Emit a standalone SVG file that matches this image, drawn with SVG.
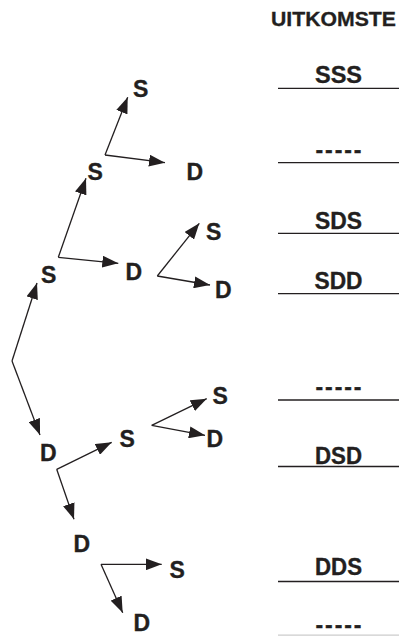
<svg xmlns="http://www.w3.org/2000/svg" width="399" height="636" viewBox="0 0 399 636">
<style>
  .lbl { font-family: "Liberation Sans", Arial, sans-serif; font-weight: bold; font-size: 23px; fill: #231f20; stroke: #231f20; stroke-width: 0.35; }
  .out { font-family: "Liberation Sans", Arial, sans-serif; font-weight: bold; font-size: 23px; fill: #231f20; stroke: #231f20; stroke-width: 0.35; text-anchor: middle; }
  .title { font-family: "Liberation Sans", Arial, sans-serif; font-weight: bold; font-size: 21px; fill: #231f20; stroke: #231f20; stroke-width: 0.3; }
  .edge { stroke: #231f20; stroke-width: 1.3; fill: none; marker-end: url(#arr); }
  .rule { stroke: #231f20; stroke-width: 1.3; }
</style>
<defs>
  <marker id="arr" markerUnits="userSpaceOnUse" markerWidth="16" markerHeight="12" viewBox="0 0 16 12" refX="16" refY="6" orient="auto">
    <path d="M0,0 L16,6 L0,12 Z" fill="#231f20"/>
  </marker>
</defs>
<rect width="399" height="636" fill="#ffffff"/>
<text class="title" x="271" y="26" textLength="125" lengthAdjust="spacingAndGlyphs">UITKOMSTE</text>

<g id="connectors">
  <line class="edge" x1="12" y1="361" x2="37" y2="283"/>
  <line class="edge" x1="12" y1="361" x2="40" y2="435"/>
  <line class="edge" x1="58.3" y1="257.3" x2="86" y2="178.3"/>
  <line class="edge" x1="58.3" y1="257.3" x2="118.3" y2="263.3"/>
  <line class="edge" x1="105" y1="155" x2="127.7" y2="97.3"/>
  <line class="edge" x1="105" y1="155" x2="165" y2="162.7"/>
  <line class="edge" x1="157.3" y1="276" x2="199.3" y2="223.3"/>
  <line class="edge" x1="157.3" y1="276" x2="210" y2="285"/>
  <line class="edge" x1="56.7" y1="469.3" x2="111.7" y2="442.3"/>
  <line class="edge" x1="56.7" y1="469.3" x2="74" y2="519.3"/>
  <line class="edge" x1="151.7" y1="425.3" x2="206.7" y2="398.7"/>
  <line class="edge" x1="151.7" y1="425.3" x2="205" y2="435.3"/>
  <line class="edge" x1="101" y1="564.3" x2="161.7" y2="564.3"/>
  <line class="edge" x1="101" y1="564.3" x2="122.7" y2="612.7"/>
</g>

<g id="n-s1"><text class="lbl" x="41" y="283">S</text></g>
<g id="n-s2"><text class="lbl" x="87.5" y="180">S</text></g>
<g id="n-s3"><text class="lbl" x="133" y="96.5">S</text></g>
<g id="n-ssd"><text class="lbl" x="186.5" y="180">D</text></g>
<g id="n-sd"><text class="lbl" x="125.5" y="280">D</text></g>
<g id="n-sds"><text class="lbl" x="206" y="240">S</text></g>
<g id="n-sdd"><text class="lbl" x="215" y="297.5">D</text></g>
<g id="n-d1"><text class="lbl" x="40" y="460.5">D</text></g>
<g id="n-ds"><text class="lbl" x="119.5" y="447">S</text></g>
<g id="n-dss"><text class="lbl" x="212.5" y="404">S</text></g>
<g id="n-dsd"><text class="lbl" x="206.5" y="447">D</text></g>
<g id="n-d2"><text class="lbl" x="73.5" y="552">D</text></g>
<g id="n-dds"><text class="lbl" x="169.5" y="578">S</text></g>
<g id="n-ddd"><text class="lbl" x="133.5" y="631">D</text></g>

<g id="outcomes">
  <text class="out" x="338.5" y="83" textLength="47" lengthAdjust="spacingAndGlyphs">SSS</text>
  <line class="rule" x1="278" y1="88.3" x2="399" y2="88.3"/>
  <text class="out" x="338.5" y="157.5" textLength="46" lengthAdjust="spacing">-----</text>
  <line class="rule" x1="278" y1="162.7" x2="399" y2="162.7"/>
  <text class="out" x="338.5" y="228.7" textLength="47" lengthAdjust="spacingAndGlyphs">SDS</text>
  <line class="rule" x1="278" y1="233.3" x2="399" y2="233.3"/>
  <text class="out" x="338.5" y="288.8" textLength="48" lengthAdjust="spacingAndGlyphs">SDD</text>
  <line class="rule" x1="278" y1="293.6" x2="399" y2="293.6"/>
  <text class="out" x="338.5" y="395" textLength="46" lengthAdjust="spacing">-----</text>
  <line class="rule" x1="278" y1="400" x2="399" y2="400"/>
  <text class="out" x="338.5" y="464" textLength="47" lengthAdjust="spacingAndGlyphs">DSD</text>
  <line class="rule" x1="278" y1="466.5" x2="399" y2="466.5"/>
  <text class="out" x="338.5" y="575" textLength="47" lengthAdjust="spacingAndGlyphs">DDS</text>
  <line class="rule" x1="278" y1="581.5" x2="399" y2="581.5"/>
  <text class="out" x="338.5" y="632.5" textLength="46" lengthAdjust="spacing">-----</text>
  <line x1="278" y1="635.2" x2="399" y2="635.2" stroke="#cccccc" stroke-width="1.3"/>
</g>
</svg>
